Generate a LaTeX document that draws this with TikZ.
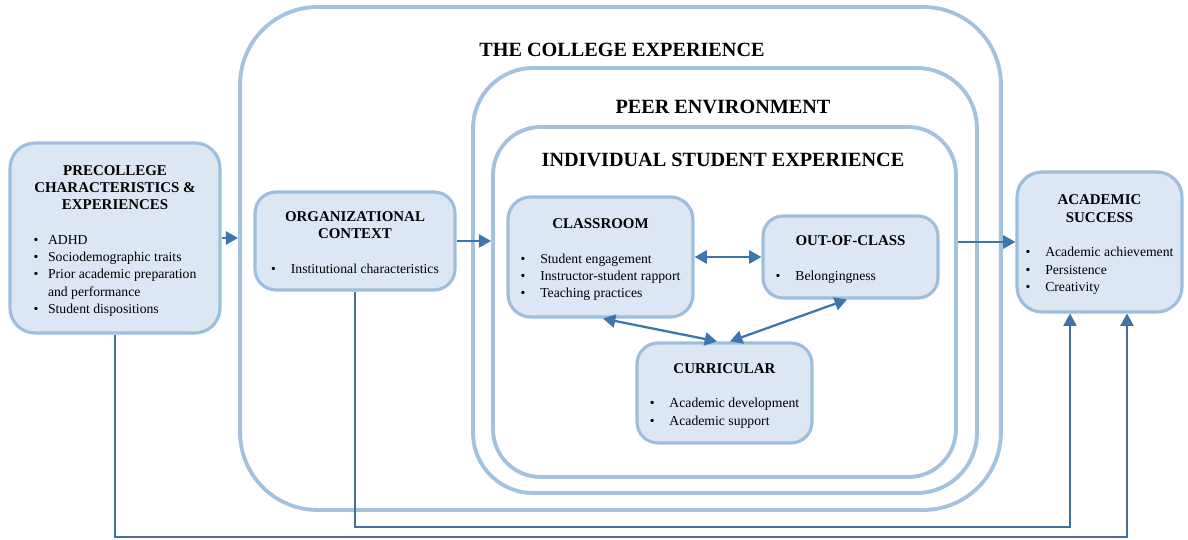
\documentclass[tikz,border=0pt]{standalone}
\usepackage{fontspec}
\setmainfont{Liberation Serif}
\usetikzlibrary{arrows.meta}

\definecolor{framecol}{HTML}{A3C2E0}
\definecolor{boxfill}{HTML}{DCE7F3}
\definecolor{boxline}{HTML}{9EBEDD}
\definecolor{arrowblue}{HTML}{3B76B0}
\definecolor{feedline}{HTML}{44709C}

% bullet list: gap between bullet and text, then rows "• & text \\"
\newcommand\itemlist[2][8.5pt]{\begin{tabular}[t]{@{}l@{\hspace{#1}}l@{}}#2\end{tabular}}
% box heading, slightly larger than the list text
\newcommand\head[1]{{\fontsize{8.5}{10}\selectfont\bfseries #1}}
% extra room above the first title line
\newcommand\topgap{\rule{0pt}{10pt}}

\tikzset{
  container/.style={draw=framecol, line width=2.2pt, rectangle},
  layertitle/.style={font=\fontsize{11.5}{13}\selectfont\bfseries, inner sep=0pt},
  factor/.style={draw=boxline, fill=boxfill, line width=1.8pt, rectangle,
    align=center, inner sep=2pt, font=\fontsize{7.8}{9.8}\selectfont},
  link/.style={draw=arrowblue, line width=1.3pt, -{Triangle[length=7pt,width=7.5pt]}},
  twoway/.style={draw=arrowblue, line width=1.3pt,
    {Triangle[length=7pt,width=7.5pt]}-{Triangle[length=7pt,width=7.5pt]}},
  feedback/.style={draw=feedline, line width=0.9pt,
    -{Triangle[length=7pt,width=7.5pt,fill=arrowblue]}}
}

\begin{document}
\begin{tikzpicture}[x=0.02cm, y=-0.02cm]
\useasboundingbox (0,0) rectangle (1188,540);

% nested layers of the college experience
\node[container, rounded corners=1.55cm, minimum width=15.22cm, minimum height=10.06cm]
  (college) at (620.5,258.5) {};
\node[container, rounded corners=1.2cm, minimum width=10.08cm, minimum height=8.5cm]
  (peer) at (725,280.5) {};
\node[container, rounded corners=0.95cm, minimum width=9.26cm, minimum height=7.0cm]
  (indiv) at (724.5,302) {};

\node[layertitle] (collegetitle) at (622,50) {THE COLLEGE EXPERIENCE};
\node[layertitle] (peertitle) at (723,107) {PEER ENVIRONMENT};
\node[layertitle] (indivtitle) at (723,160) {INDIVIDUAL STUDENT EXPERIENCE};

% factor boxes
\node[factor, rounded corners=0.5cm, minimum width=4.2cm, minimum height=3.8cm]
  (pre) at (115,238)
  {\topgap\head{PRECOLLEGE}\\\head{CHARACTERISTICS \&}\\\head{EXPERIENCES}\\[10pt]
   \itemlist[5.5pt]{• & ADHD\\ • & Sociodemographic traits\\ • & Prior academic preparation\\
   & and performance\\ • & Student dispositions}};

\node[factor, rounded corners=0.42cm, minimum width=4.0cm, minimum height=1.96cm]
  (org) at (355,241)
  {\topgap\head{ORGANIZATIONAL}\\\head{CONTEXT}\\[10pt]
   \itemlist{• & Institutional characteristics}};

\node[factor, rounded corners=0.45cm, minimum width=3.7cm, minimum height=2.4cm]
  (class) at (600.5,257)
  {\topgap\head{CLASSROOM}\\[10pt]
   \itemlist{• & Student engagement\\ • & Instructor-student rapport\\ • & Teaching practices}};

\node[factor, rounded corners=0.4cm, minimum width=3.5cm, minimum height=1.64cm]
  (ooc) at (850.5,257)
  {\topgap\head{OUT-OF-CLASS}\\[10pt]
   \begin{tabular}[t]{@{}l@{\hspace{8.5pt}}p{2.6cm}@{}}• & Belongingness\end{tabular}};

\node[factor, rounded corners=0.42cm, minimum width=3.5cm, minimum height=2.0cm]
  (curr) at (724.5,393)
  {\topgap\head{CURRICULAR}\\[10pt]
   \itemlist{• & Academic development\\ • & Academic support}};

\node[factor, rounded corners=0.5cm, minimum width=3.3cm, minimum height=2.8cm]
  (acad) at (1099.5,242)
  {\topgap\head{ACADEMIC}\\\head{SUCCESS}\\[10pt]
   \itemlist{• & Academic achievement\\ • & Persistence\\ • & Creativity}};

% forward paths
\draw[link] (pre.east) -- (pre.east -| college.west);
\draw[link] (org.east) -- (org.east -| indiv.west);
\draw[link] (indiv.east |- acad.west) -- (acad.west);

% links within the individual experience
\draw[twoway] (class.east) -- (class.east -| ooc.west);
\draw[twoway] ([xshift=0.05cm]class.south) -- ([xshift=-0.15cm]curr.north);
\draw[twoway] ([xshift=0.11cm]curr.north) -- ([xshift=-0.07cm]ooc.south);

% direct paths to academic success
\coordinate (lowrow) at (0,537);
\coordinate (midrow) at (0,527);
\coordinate (inA) at ([xshift=0.55cm]acad.south);
\coordinate (inB) at ([xshift=-0.59cm]acad.south);
\draw[feedback] (pre.south) |- (inA |- lowrow) -- (inA);
\draw[feedback] (org.south) |- (inB |- midrow) -- (inB);
\end{tikzpicture}
\end{document}
